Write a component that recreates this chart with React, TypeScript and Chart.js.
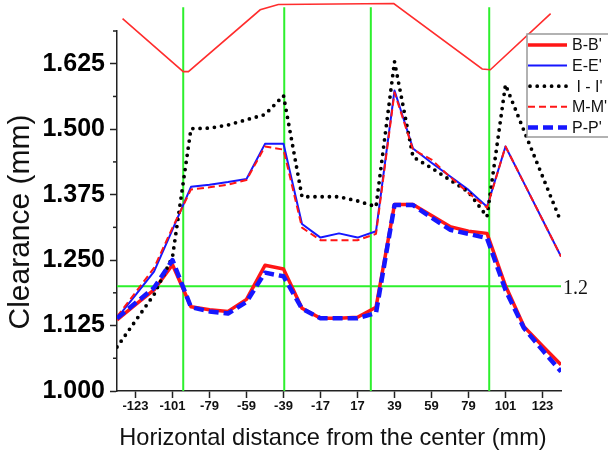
import React, { useEffect, useRef } from 'react';
import { Chart, registerables } from 'chart.js';

Chart.register(...registerables);

// ---- data ----
const tickLabels = ['-123', '-101', '-79', '-59', '-39', '-17', '17', '39', '59', '79', '101', '123'];
const yTickValues = [1.0, 1.0625, 1.125, 1.1875, 1.25, 1.3125, 1.375, 1.4375, 1.5, 1.5625, 1.625, 1.6875];

const xPos = [-0.5, 0, 0.5, 1, 1.5, 2, 2.5, 3, 3.5, 4, 4.5, 5, 5.5, 6, 6.5, 7, 7.5, 8, 8.5, 9, 9.5, 10, 10.5, 11, 11.5];

const bbValues = [1.136, 1.165, 1.193, 1.241, 1.161, 1.155, 1.152, 1.175, 1.240, 1.233, 1.158, 1.139, 1.139, 1.141, 1.160, 1.356, 1.356, 1.335, 1.314, 1.305, 1.301, 1.201, 1.123, 1.086, 1.050];
const eeValues = [1.139, 1.183, 1.228, 1.308, 1.390, 1.394, 1.399, 1.405, 1.472, 1.472, 1.319, 1.293, 1.301, 1.293, 1.305, 1.574, 1.463, 1.436, 1.410, 1.384, 1.352, 1.467, 1.397, 1.327, 1.257];
const iiValues = [1.084, 1.134, 1.184, 1.256, 1.501, 1.502, 1.508, 1.518, 1.528, 1.564, 1.371, 1.371, 1.371, 1.363, 1.352, 1.629, 1.447, 1.426, 1.403, 1.380, 1.333, 1.585, 1.497, 1.410, 1.323];
const mmValues = [1.142, 1.188, 1.235, 1.312, 1.385, 1.389, 1.394, 1.403, 1.467, 1.461, 1.312, 1.288, 1.288, 1.288, 1.300, 1.570, 1.461, 1.442, 1.409, 1.378, 1.350, 1.467, 1.397, 1.327, 1.257];
const ppValues = [1.139, 1.168, 1.197, 1.250, 1.160, 1.152, 1.148, 1.170, 1.226, 1.219, 1.157, 1.139, 1.139, 1.139, 1.149, 1.355, 1.355, 1.331, 1.308, 1.300, 1.292, 1.193, 1.120, 1.078, 1.037];

const profileX = [-0.35, 1.29, 1.43, 3.37, 3.86, 6.98, 9.37, 9.59, 11.22];
const profileY = [1.711, 1.610, 1.610, 1.728, 1.738, 1.740, 1.615, 1.6135, 1.7206];

const markerX = [1.29, 4.02, 6.36, 9.56];
const markerBottom = 1.0;
const markerTop = 1.733;
const limitValue = 1.2;
const limitX = [-0.5, 11.5];

const xTitle = 'Horizontal distance from the center (mm)';
const yTitle = 'Clearance (mm)';

const RED = 'rgb(255,22,22)';
const BLUE = 'rgb(22,22,255)';
const GREEN = 'rgb(45,240,45)';

const isMajor = (v: number) => Math.round(v / 0.0625) % 2 === 0;
const pts = (xs: number[], ys: number[]) => xs.map((x, i) => ({ x, y: ys[i] }));

const decorPlugin = {
  id: 'decor',
  afterDraw(chart: any) {
    const ctx = chart.ctx as CanvasRenderingContext2D;
    const ys = chart.scales.y;
    const area = chart.chartArea;
    ctx.save();
    // minor y ticks
    ctx.strokeStyle = '#222';
    ctx.lineWidth = 1.5;
    yTickValues.forEach((v) => {
      if (!isMajor(v)) {
        const py = ys.getPixelForValue(v);
        ctx.beginPath();
        ctx.moveTo(area.left - 4, py);
        ctx.lineTo(area.left, py);
        ctx.stroke();
      }
    });
    // y title
    ctx.save();
    ctx.translate(21, 222);
    ctx.rotate(-Math.PI / 2);
    ctx.font = '30px Arial, "Liberation Sans", sans-serif';
    ctx.fillStyle = '#111';
    ctx.textAlign = 'center';
    ctx.textBaseline = 'middle';
    ctx.fillText(yTitle, 0, 0);
    ctx.restore();
    // x title
    ctx.font = '23.6px Arial, "Liberation Sans", sans-serif';
    ctx.fillStyle = '#111';
    ctx.textAlign = 'center';
    ctx.textBaseline = 'alphabetic';
    ctx.fillText(xTitle, 333, 445);
    // limit label
    ctx.font = '20px "Liberation Serif", "Times New Roman", serif';
    ctx.fillStyle = '#111';
    ctx.textAlign = 'left';
    ctx.textBaseline = 'middle';
    ctx.fillText(String(limitValue), area.right + 2, ys.getPixelForValue(limitValue) + 2);
    // legend
    const items = chart.data.datasets.filter((d: any) => d.showInLegend);
    const bx = 527, by = 34, bw = 100, bh = 103;
    ctx.fillStyle = '#fff';
    ctx.fillRect(bx, by, bw, bh);
    ctx.strokeStyle = '#999';
    ctx.lineWidth = 1.5;
    ctx.strokeRect(bx, by, bw, bh);
    items.forEach((d: any, i: number) => {
      const ry = 45 + i * 20.6;
      ctx.save();
      ctx.strokeStyle = d.borderColor;
      ctx.lineWidth = d.borderWidth;
      ctx.lineCap = d.borderCapStyle || 'butt';
      ctx.setLineDash(d.borderDash || []);
      ctx.beginPath();
      ctx.moveTo(d.legendDots ? 530 : 528, ry);
      ctx.lineTo(567, ry);
      ctx.stroke();
      ctx.restore();
      ctx.font = '16px Arial, "Liberation Sans", sans-serif';
      ctx.fillStyle = '#111';
      ctx.textAlign = 'left';
      ctx.textBaseline = 'middle';
      ctx.fillText(d.label, 572, ry + 1);
    });
    ctx.restore();
  },
};

export default function App() {
  const ref = useRef<HTMLCanvasElement | null>(null);

  useEffect(() => {
    if (!ref.current) return;
    Chart.defaults.font.family = 'Arial, "Liberation Sans", sans-serif';
    const series = [
      { label: "B-B'", data: pts(xPos, bbValues), borderColor: RED, borderWidth: 3.5, borderDash: [], order: 5 },
      { label: "E-E'", data: pts(xPos, eeValues), borderColor: BLUE, borderWidth: 2, borderDash: [], order: 4 },
      { label: " I - I'", data: pts(xPos, iiValues), borderColor: '#000', borderWidth: 3.8, borderDash: [0, 7.2], borderCapStyle: 'round', legendDots: true, order: 3 },
      { label: "M-M'", data: pts(xPos, mmValues), borderColor: RED, borderWidth: 2, borderDash: [7, 4], order: 2 },
      { label: "P-P'", data: pts(xPos, ppValues), borderColor: BLUE, borderWidth: 4.5, borderDash: [10, 5], order: 1 },
    ].map((s) => ({ ...s, showInLegend: true, pointRadius: 0, fill: false, tension: 0, borderJoinStyle: 'round' }));

    const markers = markerX.map((x) => ({
      label: 'marker',
      data: [{ x, y: markerBottom }, { x, y: markerTop }],
      borderColor: GREEN,
      borderWidth: 2,
      pointRadius: 0,
      clip: false,
      order: 10,
    }));

    const datasets: any[] = [
      ...series,
      {
        label: 'profile',
        data: pts(profileX, profileY),
        borderColor: 'rgb(255,45,45)',
        borderWidth: 1.6,
        pointRadius: 0,
        clip: false,
        order: 9,
      },
      ...markers,
      {
        label: 'limit',
        data: limitX.map((x) => ({ x, y: limitValue })),
        borderColor: GREEN,
        borderWidth: 2,
        pointRadius: 0,
        order: 8,
      },
    ];

    const chart = new Chart(ref.current, {
      type: 'line',
      data: { datasets },
      options: {
        responsive: false,
        animation: false,
        events: [],
        layout: { padding: { top: 31, right: 47, left: 0, bottom: 0 } },
        plugins: { legend: { display: false }, tooltip: { enabled: false }, title: { display: false } },
        scales: {
          x: {
            type: 'linear',
            min: -0.5,
            max: 11.5,
            afterBuildTicks: (s: any) => {
              s.ticks = tickLabels.map((_, i) => ({ value: i }));
            },
            afterFit: (s: any) => {
              s.height = 62;
            },
            ticks: {
              callback: (_v: any, i: number) => tickLabels[i] ?? '',
              font: { size: 13, weight: 'bold' },
              color: '#111',
              padding: 1,
              autoSkip: false,
              maxRotation: 0,
              minRotation: 0,
            },
            grid: { drawOnChartArea: false, tickLength: 7, tickColor: '#222', tickWidth: 1.5 },
            border: { color: '#222', width: 1.5 },
          },
          y: {
            type: 'linear',
            min: 1.0,
            max: 1.6875,
            afterBuildTicks: (s: any) => {
              s.ticks = yTickValues.map((v) => ({ value: v }));
            },
            afterFit: (s: any) => {
              s.width = 117;
            },
            ticks: {
              callback: (v: any) => (isMajor(Number(v)) ? Number(v).toFixed(3) : ''),
              font: { size: 25, weight: 'bold' },
              color: '#000',
              padding: 5,
              autoSkip: false,
            },
            grid: {
              drawOnChartArea: false,
              tickLength: 7,
              tickWidth: 1.5,
              tickColor: (c: any) => (c.tick && isMajor(c.tick.value) ? '#222' : 'rgba(0,0,0,0)'),
            },
            border: { color: '#222', width: 1.5 },
          },
        },
      } as any,
      plugins: [decorPlugin],
    });
    return () => chart.destroy();
  }, []);

  return (
    <div style={{ position: 'absolute', left: 0, top: 0, width: 608, height: 453, background: '#fff' }}>
      <canvas ref={ref} width={608} height={453} />
    </div>
  );
}
